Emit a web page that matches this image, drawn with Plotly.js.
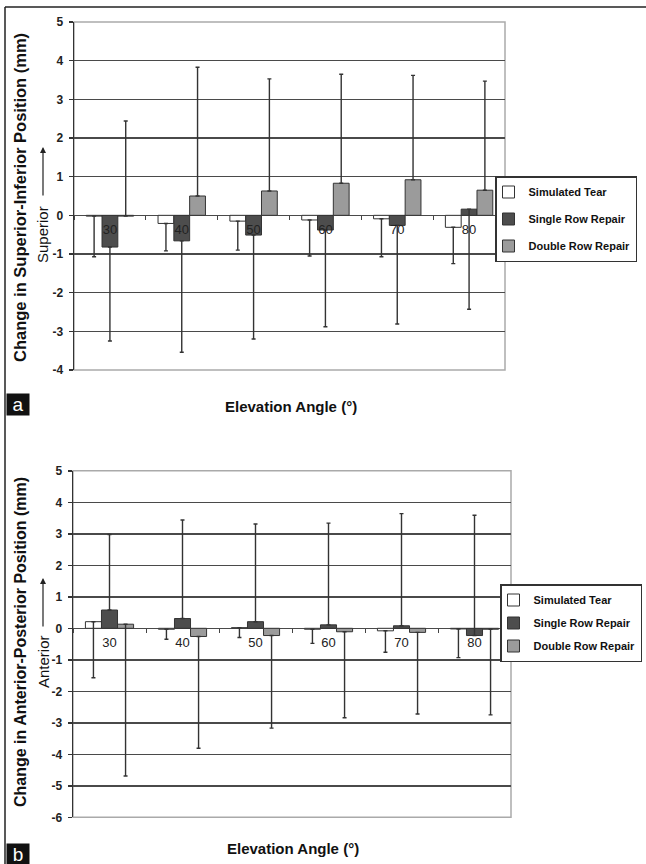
<!DOCTYPE html>
<html>
<head>
<meta charset="utf-8">
<script src="https://cdn.plot.ly/plotly-3.0.1.min.js"></script>
<style>
html,body{margin:0;padding:0;background:#fff;}
#chart{width:646px;height:864px;}
</style>
</head>
<body>
<div id="chart"></div>
<script>
// ---- data ----
const categories = ['30', '40', '50', '60', '70', '80'];
const seriesNames = ['Simulated Tear', 'Single Row Repair', 'Double Row Repair'];
const noErr = [0, 0, 0, 0, 0, 0];

// (a) Superior-Inferior change (mm)
const simTearSI = [-0.02, -0.21, -0.15, -0.12, -0.09, -0.31];
const simTearSIErrMinus = [1.05, 0.71, 0.75, 0.93, 0.98, 0.94];
const singleSI = [-0.82, -0.66, -0.51, -0.38, -0.26, 0.16];
const singleSIErrMinus = [2.43, 2.88, 2.69, 2.50, 2.55, 2.59];
const doubleSI = [-0.02, 0.50, 0.63, 0.83, 0.92, 0.65];
const doubleSIErrPlus = [2.46, 3.33, 2.90, 2.82, 2.70, 2.82];

// (b) Anterior-Posterior change (mm)
const simTearAP = [0.21, -0.03, 0.02, -0.03, -0.08, -0.02];
const simTearAPErrMinus = [1.78, 0.32, 0.31, 0.45, 0.68, 0.91];
const singleAP = [0.58, 0.31, 0.21, 0.11, 0.08, -0.23];
const singleAPErrPlus = [2.40, 3.13, 3.10, 3.23, 3.56, 3.82];
const doubleAP = [0.13, -0.26, -0.23, -0.11, -0.13, -0.03];
const doubleAPErrMinus = [4.82, 3.55, 2.94, 2.73, 2.59, 2.72];

const yTicksA = [-4, -3, -2, -1, 0, 1, 2, 3, 4, 5];
const yTicksB = [-6, -5, -4, -3, -2, -1, 0, 1, 2, 3, 4, 5];

// ---- styles ----
const FONT = 'Liberation Sans, Arial, Helvetica, sans-serif';
const fills = ['#ffffff', '#4d4d4d', '#9b9b9b'];
const W = 646, H = 864;
const px = v => v / W;
const py = v => 1 - v / H;

function bar(name, x, y, plus, minus, idx, xa, ya, legend) {
  return {
    type: 'bar', name: name, x: x, y: y,
    xaxis: xa, yaxis: ya, legend: legend,
    legendgroup: legend + idx,
    marker: {color: fills[idx], line: {color: '#333', width: 1}},
    error_y: {type: 'data', symmetric: false, array: plus, arrayminus: minus,
              color: '#333', thickness: 1.4, width: 2},
    hoverinfo: 'skip'
  };
}

const data = [
  bar(seriesNames[0], categories, simTearSI, noErr, simTearSIErrMinus, 0, 'x', 'y', 'legend'),
  bar(seriesNames[1], categories, singleSI, noErr, singleSIErrMinus, 1, 'x', 'y', 'legend'),
  bar(seriesNames[2], categories, doubleSI, doubleSIErrPlus, noErr, 2, 'x', 'y', 'legend'),
  bar(seriesNames[0], categories, simTearAP, noErr, simTearAPErrMinus, 0, 'x2', 'y2', 'legend2'),
  bar(seriesNames[1], categories, singleAP, singleAPErrPlus, noErr, 1, 'x2', 'y2', 'legend2'),
  bar(seriesNames[2], categories, doubleAP, noErr, doubleAPErrMinus, 2, 'x2', 'y2', 'legend2')
];

const domA = [py(370), py(22)];
const domB = [py(817.3), py(470.8)];

function xAxis(domain, pos) {
  return {
    domain: domain, anchor: 'free', position: pos, type: 'category',
    showgrid: false, showline: false, zeroline: false,
    ticks: 'outside', tickson: 'boundaries', ticklen: 4, tickcolor: '#444', tickwidth: 1,
    ticklabelstandoff: 5,
    tickfont: {family: FONT, size: 13, color: '#222'}, fixedrange: true
  };
}
function yAxis(domain, range, vals, anchor) {
  return {
    domain: domain, anchor: anchor, range: range, tickvals: vals,
    ticktext: vals.map(String),
    showgrid: true, gridcolor: '#4a4a4a', gridwidth: 1.5,
    zeroline: true, zerolinecolor: '#4a4a4a', zerolinewidth: 1.5,
    showline: true, linecolor: '#333', linewidth: 1.5,
    ticks: 'outside', ticklen: 4, tickcolor: '#333', tickwidth: 1.5,
    ticklabelstandoff: 3,
    tickfont: {family: FONT, size: 12, color: '#222', weight: 'bold'}, fixedrange: true
  };
}

const legendBase = {
  xanchor: 'left', yanchor: 'top', bgcolor: '#fff', bordercolor: '#333', borderwidth: 1.5,
  font: {family: FONT, size: 11, color: '#111', weight: 'bold'}, traceorder: 'grouped',
  indentation: -8
};

function ann(text, x, y, size, bold, angle) {
  return {text: bold ? '<b>' + text + '</b>' : text, xref: 'paper', yref: 'paper', x: x, y: y,
          xanchor: 'center', yanchor: 'middle', showarrow: false, textangle: angle || 0,
          font: {family: FONT, size: size, color: '#111'}};
}
function arrow(x, yHead, len) {
  return {text: '', xref: 'paper', yref: 'paper', x: px(x), y: py(yHead), ax: 0, ay: len,
          showarrow: true, arrowhead: 2, arrowsize: 1, arrowwidth: 1.2, arrowcolor: '#222'};
}
function tag(letter, yTop) {
  return {text: letter, xref: 'paper', yref: 'paper', x: px(6), y: py(yTop),
          xanchor: 'left', yanchor: 'top', showarrow: false, bgcolor: '#111',
          width: 22, height: 21, borderpad: 0, align: 'center', valign: 'middle',
          font: {family: FONT, size: 19, color: '#fff'}};
}

const layout = {
  width: W, height: H, margin: {l: 0, r: 0, t: 0, b: 0},
  paper_bgcolor: '#fff', plot_bgcolor: '#fff',
  barmode: 'group', bargap: 0.34, bargroupgap: 0,
  showlegend: true,
  xaxis: xAxis([px(74), px(505)], py(215.3)),
  yaxis: yAxis(domA, [-4, 5], yTicksA, 'x'),
  xaxis2: xAxis([px(73), px(511)], py(628.3)),
  yaxis2: yAxis(domB, [-6, 5], yTicksB, 'x2'),
  legend: Object.assign({}, legendBase, {x: px(495), y: py(176), tracegroupgap: 8}),
  legend2: Object.assign({}, legendBase, {x: px(500), y: py(584), tracegroupgap: 4}),
  shapes: [
    {type: 'rect', xref: 'x domain', yref: 'y domain', x0: 0, x1: 1, y0: 0, y1: 1,
     line: {color: '#aaa', width: 1.5}, layer: 'below'},
    {type: 'rect', xref: 'x2 domain', yref: 'y2 domain', x0: 0, x1: 1, y0: 0, y1: 1,
     line: {color: '#aaa', width: 1.5}, layer: 'below'},
    {type: 'line', xref: 'paper', yref: 'paper', x0: px(5), x1: 1, y0: py(7), y1: py(7),
     line: {color: '#222', width: 1.5}},
    {type: 'line', xref: 'paper', yref: 'paper', x0: px(5), x1: px(5), y0: py(7), y1: 0,
     line: {color: '#222', width: 1.5}}
  ],
  annotations: [
    ann('Change in Superior-Inferior Position (mm)', px(20), py(198), 16.5, true, -90),
    ann('Superior', px(43), py(235), 15, false, -90),
    arrow(43, 147, 50),
    ann('Elevation Angle (°)', px(291), py(406), 15, true, 0),
    ann('Change in Anterior-Posterior Position (mm)', px(20), py(642), 16, true, -90),
    ann('Anterior', px(43), py(662), 15, false, -90),
    arrow(43, 578, 50),
    ann('Elevation Angle (°)', px(293), py(848), 15, true, 0),
    tag('a', 393),
    tag('b', 843)
  ]
};

Plotly.newPlot('chart', data, layout, {staticPlot: true, displayModeBar: false});
</script>
</body>
</html>
